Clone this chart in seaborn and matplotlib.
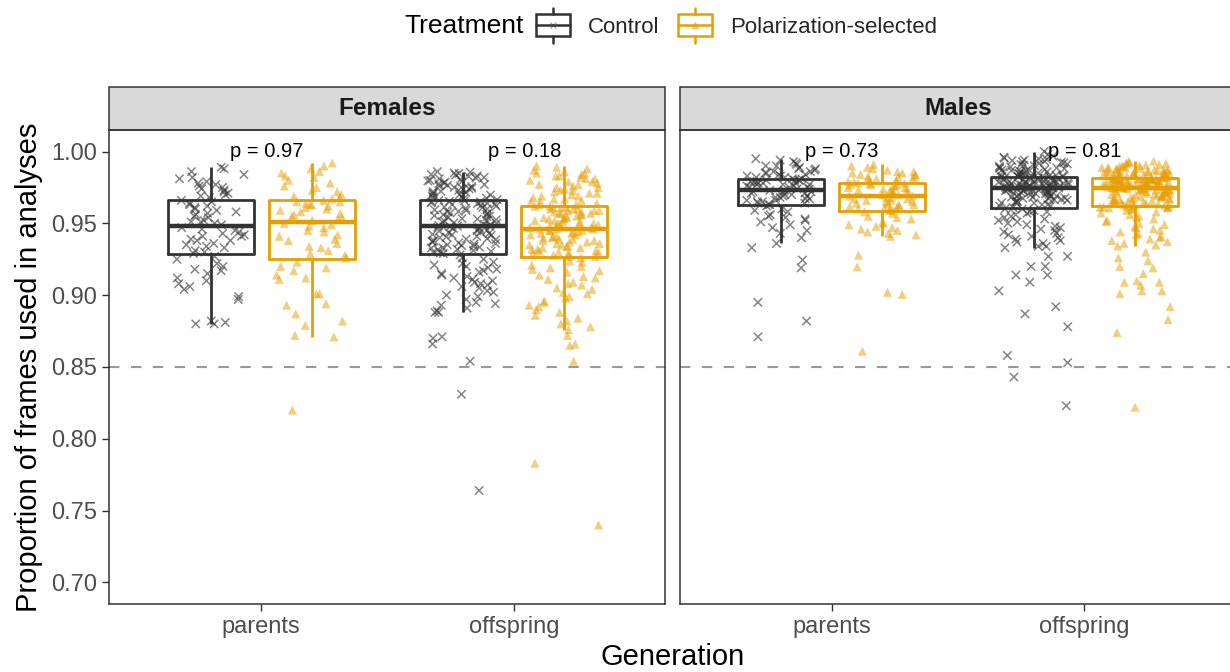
# boxplot + pontos com jitter: proporcao de frames usados, por sexo e geracao

import matplotlib
matplotlib.use('Agg')
import matplotlib.pyplot as plt
import numpy as np
import pandas as pd
import seaborn as sns
from matplotlib.legend_handler import HandlerBase
from matplotlib.lines import Line2D
from matplotlib.patches import Rectangle

# categorias
sexos = ['Females', 'Males']
geracoes = ['parents', 'offspring']
tratamentos = ['Control', 'Polarization-selected']
cores = {'Control': '#333333', 'Polarization-selected': '#E69F00'}
p_valores = {'Females': ['p = 0.97', 'p = 0.18'], 'Males': ['p = 0.73', 'p = 0.81']}

# valores (aproximados)
fem_pais_ctrl = [
    0.880, 0.881, 0.880, 0.882, 0.897, 0.899, 0.904, 0.906, 0.908, 0.910,
    0.912, 0.915, 0.917, 0.918, 0.920, 0.922, 0.925, 0.927,
    0.929, 0.930, 0.931, 0.933, 0.934, 0.935, 0.936, 0.938, 0.938, 0.939,
    0.941, 0.941, 0.942, 0.943, 0.944, 0.945, 0.946, 0.947,
    0.949, 0.950, 0.951, 0.951, 0.952, 0.954, 0.955, 0.956, 0.957, 0.958,
    0.959, 0.960, 0.961, 0.962, 0.963, 0.964, 0.965, 0.966,
    0.968, 0.969, 0.970, 0.971, 0.972, 0.973, 0.974, 0.975, 0.976, 0.977,
    0.978, 0.979, 0.981, 0.982, 0.984, 0.986, 0.988, 0.989]

fem_pais_pol = [
    0.820, 0.871, 0.872, 0.879, 0.882, 0.887, 0.893, 0.894, 0.901, 0.901,
    0.911, 0.912, 0.914, 0.917, 0.919, 0.920, 0.923,
    0.926, 0.928, 0.929, 0.931, 0.933, 0.934, 0.936, 0.938, 0.939, 0.941,
    0.942, 0.944, 0.945, 0.947, 0.948, 0.949, 0.950,
    0.952, 0.953, 0.954, 0.955, 0.956, 0.957, 0.958, 0.959, 0.960, 0.961,
    0.962, 0.963, 0.963, 0.964, 0.965, 0.965, 0.966,
    0.967, 0.968, 0.969, 0.970, 0.972, 0.973, 0.975, 0.976, 0.978, 0.980,
    0.982, 0.983, 0.985, 0.986, 0.988, 0.990, 0.992]

fem_filhos_ctrl = [
    0.764, 0.831, 0.854, 0.866, 0.870, 0.871,
    0.888, 0.888, 0.889, 0.891, 0.893, 0.894, 0.895, 0.897, 0.899, 0.900,
    0.902, 0.903, 0.905, 0.906, 0.907, 0.908, 0.909, 0.910, 0.911, 0.912,
    0.913, 0.914, 0.915, 0.916, 0.917, 0.918, 0.919, 0.920, 0.921, 0.922,
    0.923, 0.925, 0.926, 0.928,
    0.9290, 0.9295, 0.9300, 0.9305, 0.9310, 0.9316, 0.9320, 0.9327, 0.9330, 0.9334,
    0.9340, 0.9345, 0.9350, 0.9356, 0.9360, 0.9364, 0.9370, 0.9375, 0.9380, 0.9386,
    0.9390, 0.9393, 0.9400, 0.9405, 0.9410, 0.9417, 0.9420, 0.9424, 0.9430, 0.9436,
    0.9440, 0.9446, 0.9450, 0.9453, 0.9460, 0.9465, 0.9470, 0.9473, 0.9477, 0.9480,
    0.9480, 0.9486, 0.9490, 0.9494, 0.9500, 0.9504, 0.9510, 0.9513, 0.9520, 0.9525,
    0.9530, 0.9533, 0.9540, 0.9546, 0.9550, 0.9553, 0.9560, 0.9564, 0.9570, 0.9572,
    0.9580, 0.9583, 0.9590, 0.9594, 0.9600, 0.9605, 0.9610, 0.9613, 0.9620, 0.9624,
    0.9630, 0.9633, 0.9637, 0.9640, 0.9644, 0.9648, 0.9650, 0.9653, 0.9657, 0.9660,
    0.9665, 0.9670, 0.9675, 0.9680, 0.9686, 0.9690, 0.9697, 0.9700, 0.9704, 0.9710,
    0.9716, 0.9720, 0.9723, 0.9730, 0.9737, 0.9740, 0.9745, 0.9750, 0.9756, 0.9760,
    0.9764, 0.9770, 0.9775, 0.9780, 0.9786, 0.9790, 0.9795, 0.9800, 0.9806, 0.9810,
    0.9815, 0.9820, 0.9826, 0.9830, 0.9836, 0.9840, 0.9847, 0.9850, 0.9856, 0.9860]

fem_filhos_pol = [
    0.740, 0.783, 0.854, 0.865, 0.866, 0.872,
    0.876, 0.878, 0.880, 0.882, 0.884, 0.886, 0.888, 0.890, 0.892, 0.893,
    0.895, 0.896, 0.898, 0.899, 0.901, 0.902, 0.904, 0.905, 0.907, 0.908,
    0.909, 0.911, 0.912, 0.913, 0.914, 0.916, 0.917, 0.918, 0.919, 0.920,
    0.921, 0.923, 0.924, 0.926,
    0.927, 0.927, 0.928, 0.928, 0.929, 0.929, 0.930, 0.930, 0.931, 0.931,
    0.932, 0.932, 0.933, 0.933, 0.934, 0.934, 0.935, 0.935, 0.936, 0.936,
    0.937, 0.937, 0.938, 0.938, 0.939, 0.939, 0.940, 0.940, 0.941, 0.941,
    0.942, 0.942, 0.943, 0.943, 0.944, 0.944, 0.945, 0.945, 0.945, 0.946,
    0.946, 0.946, 0.947, 0.947, 0.948, 0.948, 0.949, 0.949, 0.950, 0.950,
    0.950, 0.951, 0.951, 0.952, 0.952, 0.953, 0.953, 0.954, 0.954, 0.954,
    0.955, 0.955, 0.956, 0.956, 0.957, 0.957, 0.957, 0.958, 0.958, 0.959,
    0.959, 0.959, 0.960, 0.960, 0.960, 0.961, 0.961, 0.961, 0.962, 0.962,
    0.963, 0.963, 0.964, 0.965, 0.965, 0.966, 0.967, 0.967, 0.968, 0.969,
    0.969, 0.970, 0.971, 0.971, 0.972, 0.973, 0.973, 0.974, 0.975, 0.975,
    0.976, 0.977, 0.977, 0.978, 0.979, 0.979, 0.980, 0.981, 0.981, 0.982,
    0.983, 0.983, 0.984, 0.985, 0.985, 0.986, 0.987, 0.988, 0.989, 0.990]

mac_pais_ctrl = [
    0.871, 0.882, 0.895, 0.919, 0.9245, 0.933,
    0.936, 0.940, 0.943, 0.945, 0.947, 0.949, 0.951, 0.952, 0.953, 0.954,
    0.955, 0.956, 0.958, 0.959, 0.960, 0.962,
    0.963, 0.963, 0.964, 0.964, 0.965, 0.965, 0.966, 0.966, 0.967, 0.967,
    0.968, 0.968, 0.969, 0.969, 0.970, 0.970, 0.971, 0.971, 0.972, 0.972,
    0.972, 0.973,
    0.973, 0.974, 0.974, 0.975, 0.975, 0.975, 0.976, 0.976, 0.977, 0.977,
    0.977, 0.978, 0.978, 0.978, 0.979, 0.979, 0.979, 0.980, 0.980, 0.980,
    0.980, 0.981,
    0.981, 0.982, 0.982, 0.983, 0.983, 0.984, 0.984, 0.985, 0.985, 0.986,
    0.986, 0.987, 0.988, 0.988, 0.989, 0.990, 0.990, 0.991, 0.992, 0.993,
    0.994, 0.995]

mac_pais_pol = [
    0.861, 0.9005, 0.902, 0.9197, 0.9278,
    0.941, 0.942, 0.943, 0.944, 0.945, 0.946, 0.947, 0.948, 0.949, 0.950,
    0.951, 0.953, 0.954, 0.955, 0.957, 0.958,
    0.959, 0.959, 0.960, 0.960, 0.961, 0.961, 0.962, 0.962, 0.963, 0.963,
    0.964, 0.964, 0.965, 0.965, 0.966, 0.966, 0.967, 0.967, 0.968, 0.968,
    0.969,
    0.969, 0.970, 0.970, 0.971, 0.971, 0.972, 0.972, 0.973, 0.973, 0.974,
    0.974, 0.975, 0.975, 0.976, 0.976, 0.977, 0.977, 0.977, 0.978, 0.978,
    0.978,
    0.979, 0.979, 0.980, 0.980, 0.981, 0.981, 0.982, 0.982, 0.983, 0.983,
    0.984, 0.984, 0.985, 0.985, 0.986, 0.986, 0.987, 0.988, 0.989, 0.990,
    0.991]

mac_filhos_ctrl = [
    0.823, 0.843, 0.853, 0.858, 0.878, 0.887, 0.892, 0.903, 0.909, 0.914,
    0.914, 0.920, 0.920, 0.927, 0.927, 0.933, 0.934, 0.934,
    0.936, 0.937, 0.938, 0.939, 0.940, 0.941, 0.942, 0.943, 0.944, 0.945,
    0.946, 0.947, 0.948, 0.949, 0.950, 0.951, 0.952, 0.953, 0.954, 0.955,
    0.956, 0.957, 0.958, 0.958, 0.959, 0.960, 0.960, 0.961, 0.962, 0.962,
    0.963, 0.963,
    0.9641, 0.9643, 0.9646, 0.9650, 0.9653, 0.9657, 0.9661, 0.9664, 0.9668, 0.9671,
    0.9674, 0.9677, 0.9680, 0.9683, 0.9686, 0.9689, 0.9691, 0.9694, 0.9697, 0.9700,
    0.9702, 0.9705, 0.9707, 0.9710, 0.9712, 0.9715, 0.9717, 0.9720, 0.9722, 0.9724,
    0.9727, 0.9729, 0.9731, 0.9733, 0.9735, 0.9737, 0.9739, 0.9741, 0.9743, 0.9745,
    0.9746, 0.9747, 0.9748, 0.9749, 0.9750, 0.9751, 0.9752, 0.9753, 0.9754, 0.9755,
    0.9756, 0.9758, 0.9760, 0.9762, 0.9764, 0.9766, 0.9768, 0.9770, 0.9772, 0.9774,
    0.9776, 0.9778, 0.9780, 0.9782, 0.9784, 0.9786, 0.9788, 0.9790, 0.9792, 0.9794,
    0.9796, 0.9798, 0.9800, 0.9802, 0.9804, 0.9806, 0.9808, 0.9810, 0.9812, 0.9814,
    0.9816, 0.9818, 0.9820, 0.9821, 0.9822, 0.9824, 0.9825, 0.9827, 0.9829, 0.9831,
    0.9833, 0.9835, 0.9838, 0.9841, 0.9844, 0.9847, 0.9850, 0.9853, 0.9856, 0.9859,
    0.9862, 0.9865, 0.9868, 0.9871, 0.9874, 0.9877, 0.9880, 0.9883, 0.9886, 0.9889,
    0.9893, 0.9897, 0.9901, 0.9905, 0.9909, 0.9913, 0.9917, 0.9921, 0.9925, 0.9929,
    0.9933, 0.9937, 0.9941, 0.9945, 0.9949, 0.9953, 0.9960, 0.9968, 0.9980, 1.0000]

mac_filhos_pol = [
    0.822, 0.874, 0.883, 0.892, 0.901, 0.903, 0.903, 0.907, 0.909, 0.909,
    0.910, 0.915, 0.919, 0.920, 0.924, 0.926, 0.930,
    0.9342, 0.9350, 0.9361, 0.9372, 0.9380, 0.9391, 0.9402, 0.9410, 0.9423, 0.9431,
    0.9440, 0.9452, 0.9463, 0.9471, 0.9480, 0.9492, 0.9500, 0.9513, 0.9521, 0.9530,
    0.9542, 0.9551, 0.9560, 0.9572, 0.9580, 0.9591, 0.9598, 0.9603, 0.9607, 0.9610,
    0.9612, 0.9613, 0.9615,
    0.9618, 0.9621, 0.9624, 0.9627, 0.9630, 0.9633, 0.9636, 0.9639, 0.9642, 0.9645,
    0.9648, 0.9650, 0.9653, 0.9656, 0.9658, 0.9661, 0.9664, 0.9666, 0.9669, 0.9672,
    0.9674, 0.9677, 0.9680, 0.9682, 0.9685, 0.9688, 0.9690, 0.9693, 0.9696, 0.9698,
    0.9701, 0.9704, 0.9706, 0.9709, 0.9712, 0.9714, 0.9717, 0.9720, 0.9722, 0.9725,
    0.9727, 0.9730, 0.9732, 0.9734, 0.9736, 0.9738, 0.9740, 0.9742, 0.9743, 0.9744,
    0.9746, 0.9747, 0.9749, 0.9750, 0.9752, 0.9753, 0.9755, 0.9756, 0.9758, 0.9759,
    0.9761, 0.9762, 0.9764, 0.9765, 0.9767, 0.9768, 0.9770, 0.9771, 0.9773, 0.9774,
    0.9776, 0.9777, 0.9779, 0.9780, 0.9782, 0.9783, 0.9785, 0.9786, 0.9788, 0.9789,
    0.9791, 0.9792, 0.9794, 0.9795, 0.9797, 0.9798, 0.9800, 0.9801, 0.9803, 0.9804,
    0.9805, 0.9806, 0.9807, 0.9808, 0.9809, 0.9810, 0.9811, 0.9812, 0.9812, 0.9813,
    0.9814, 0.9816, 0.9818, 0.9820, 0.9822, 0.9824, 0.9826, 0.9828, 0.9830, 0.9832,
    0.9834, 0.9836, 0.9838, 0.9840, 0.9842, 0.9844, 0.9846, 0.9848, 0.9850, 0.9852,
    0.9854, 0.9856, 0.9858, 0.9860, 0.9862, 0.9864, 0.9866, 0.9868, 0.9870, 0.9872,
    0.9874, 0.9876, 0.9878, 0.9880, 0.9883, 0.9886, 0.9889, 0.9892, 0.9895, 0.9898,
    0.9901, 0.9904, 0.9907, 0.9910, 0.9914, 0.9918, 0.9922, 0.9926, 0.9930, 0.9933]

# montando o dataframe longo
grupos = [
    ('Females', 'parents', 'Control', fem_pais_ctrl),
    ('Females', 'parents', 'Polarization-selected', fem_pais_pol),
    ('Females', 'offspring', 'Control', fem_filhos_ctrl),
    ('Females', 'offspring', 'Polarization-selected', fem_filhos_pol),
    ('Males', 'parents', 'Control', mac_pais_ctrl),
    ('Males', 'parents', 'Polarization-selected', mac_pais_pol),
    ('Males', 'offspring', 'Control', mac_filhos_ctrl),
    ('Males', 'offspring', 'Polarization-selected', mac_filhos_pol),
]
linhas = []
for sexo, ger, trat, vals in grupos:
    for v in vals:
        linhas.append((sexo, ger, trat, v))
df = pd.DataFrame(linhas, columns=['Sex', 'Generation', 'Treatment', 'prop'])


# chave da legenda no formato de boxplot
class ChaveBox(HandlerBase):
    def create_artists(self, legend, orig_handle, xdescent, ydescent,
                       width, height, fontsize, trans):
        cor = orig_handle.get_color()
        x0, y0 = -xdescent, -ydescent
        xm = x0 + width / 2
        caixa = Rectangle((x0, y0), width, height, fill=False, ec=cor,
                          lw=1.8, transform=trans)
        med = Line2D([x0, x0 + width], [y0 + height / 2] * 2, color=cor,
                     lw=1.8, transform=trans)
        b1 = Line2D([xm, xm], [y0 - 0.28 * height, y0], color=cor, lw=1.8,
                    transform=trans)
        b2 = Line2D([xm, xm], [y0 + height, y0 + 1.28 * height], color=cor,
                    lw=1.8, transform=trans)
        pt = Line2D([xm], [y0 + height / 2], marker=orig_handle.get_marker(),
                    color=cor, alpha=0.5, ms=4, mew=0.8, ls='',
                    transform=trans)
        return [caixa, med, b1, b2, pt]


sns.set_theme(style='white')
plt.rcParams['font.family'] = ['Liberation Sans', 'DejaVu Sans']
np.random.seed(3)  # jitter do stripplot

fig = plt.figure(figsize=(12.3, 6.72), dpi=100)
ax_f = fig.add_axes([0.089, 0.1012, 0.452, 0.7054])
ax_m = fig.add_axes([0.5528, 0.1012, 0.452, 0.7054])
offs_p = {'Females': [0.022, 0.042], 'Males': [0.04, 0.0]}

for ax, sexo in zip([ax_f, ax_m], sexos):
    sub = df[df['Sex'] == sexo]
    ax.axhline(0.85, color='#999999', lw=1.5, ls=(0, (5, 5.5)), zorder=0.5)

    sns.stripplot(data=sub[sub['Treatment'] == 'Control'], x='Generation',
                  y='prop', hue='Treatment', order=geracoes,
                  hue_order=tratamentos, palette=cores, dodge=True,
                  jitter=0.28, marker='x', size=6, linewidth=1.1, alpha=0.6,
                  legend=False, zorder=1.5, ax=ax)
    sns.stripplot(data=sub[sub['Treatment'] == 'Polarization-selected'],
                  x='Generation', y='prop', hue='Treatment', order=geracoes,
                  hue_order=tratamentos, palette=cores, dodge=True,
                  jitter=0.28, marker='^', size=6.5, linewidth=0, alpha=0.5,
                  legend=False, zorder=1.5, ax=ax)
    sns.boxplot(data=sub, x='Generation', y='prop', hue='Treatment',
                order=geracoes, hue_order=tratamentos, palette=cores,
                fill=False, showfliers=False, showcaps=False, width=0.8,
                gap=0.15, linewidth=2.0, medianprops={'linewidth': 3.2},
                legend=False, ax=ax)

    for i, txt in enumerate(p_valores[sexo]):
        ax.text(i + offs_p[sexo][i], 1.0, txt, ha='center', va='center',
                fontsize=14.5, color='black')

    ax.set_xlim(-0.6, 1.6)
    ax.set_ylim(0.685, 1.015)
    ax.set_xlabel('')
    ax.set_ylabel('')
    for s in ax.spines.values():
        s.set_visible(True)
        s.set_color('#333333')
        s.set_linewidth(1.1)
    ax.tick_params(axis='both', length=5, width=1.0, color='#333333',
                   labelcolor='#4D4D4D', labelsize=17, pad=4, bottom=True,
                   left=True)

    # faixa do facet
    h = 0.0907
    ax.add_patch(Rectangle((0, 1), 1, h, transform=ax.transAxes,
                           clip_on=False, fc='#D9D9D9', ec='#333333', lw=1.1))
    ax.text(0.5, 1 + h / 2, sexo, transform=ax.transAxes, ha='center',
            va='center', fontsize=17.5, fontweight='bold', color='#1A1A1A')

ax_f.set_yticks([0.70, 0.75, 0.80, 0.85, 0.90, 0.95, 1.00])
ax_f.set_yticklabels(['0.70', '0.75', '0.80', '0.85', '0.90', '0.95', '1.00'])
ax_m.set_yticks([0.70, 0.75, 0.80, 0.85, 0.90, 0.95, 1.00])
ax_m.tick_params(axis='y', left=False, labelleft=False)
ax_f.set_ylabel('Proportion of frames used in analyses', fontsize=21,
                color='black', labelpad=6)

fig.text(673 / 1230, 0.022, 'Generation', ha='center', va='center',
         fontsize=21, color='black')

# legenda no topo
fig.text(404 / 1230, 0.961, 'Treatment', ha='left', va='center',
         fontsize=19, color='black')
hands = [Line2D([], [], color=cores['Control'], marker='x'),
         Line2D([], [], color=cores['Polarization-selected'], marker='^')]
fig.legend(hands, tratamentos,
           handler_map={hands[0]: ChaveBox(), hands[1]: ChaveBox()},
           loc='center left', bbox_to_anchor=(536 / 1230, 0.961), ncol=2,
           frameon=False, fontsize=16, handlelength=1.55, handleheight=1.15,
           handletextpad=0.8, columnspacing=0.8, borderpad=0,
           borderaxespad=0)

plt.savefig('out.png', dpi=100)
